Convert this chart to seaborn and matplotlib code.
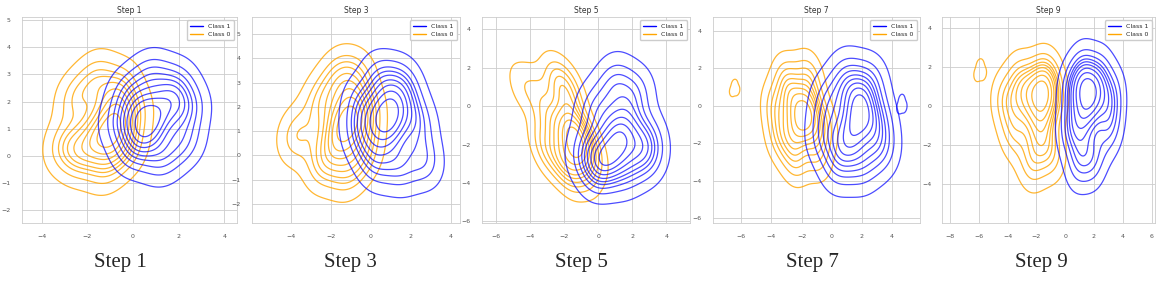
import numpy as np
import pandas as pd
import matplotlib
matplotlib.use("Agg")
import matplotlib.pyplot as plt
import seaborn as sns
from matplotlib.lines import Line2D

# ----------- DATA: weighted points (x, y, weight) per class and step -----------

step1_class0 = [(-1.1, 0.8, 1), (-0.9, 1.7, 1), (-1.8, 0.65, 1), (-0.1, 1.53, 1), (-0.6, 2.5, 1), (-1.6, 2.85, 1),
                (-2.5, 2.1, 1), (-3.0, 0.4, 1), (-2.3, -0.01, 1), (-1.2, -0.34, 1), (-0.3, 0.32, 1), (-1.0, 0.9, 1)]
step1_class1 = [(0.8, 1.3, 1), (1.56, 1.86, 1), (0.58, 0.87, 1), (2.42, 1.75, 1), (1.88, 2.63, 1), (0.8, 2.96, 1),
                (-0.17, 2.3, 1), (-0.5, 1.2, 1), (0.04, 0.21, 1), (1.24, -0.12, 1), (2.2, 0.54, 1), (0.56, 1.6, 1)]

step3_class0 = [(-1.4, 1.1, 1), (-0.9, 1.8, 1), (-1.8, 0.5, 1), (-0.3, 1.6, 1), (-0.8, 3.0, 1), (-1.6, 3.2, 1),
                (-2.5, 2.2, 1), (-3.7, 0.8, 1), (-2.4, -0.3, 1), (-1.2, -0.6, 1), (-0.4, 0.2, 1), (-1.3, 1.4, 1)]
step3_class1 = [(0.75, 1.67, 1), (1.31, 2.11, 1), (0.52, 0.97, 1), (2.32, 1.41, 1), (1.64, 2.9, 1), (0.52, 3.08, 1),
                (-0.37, 2.02, 1), (-0.48, 0.86, 1), (0.19, -0.27, 1), (1.42, -0.44, 1), (2.65, -0.18, 1), (0.97, 1.41, 1)]

step5_class0 = [(-1.5, -2.0, 1), (-1.1, -1.3, 1), (-1.8, -2.8, 1), (-0.5, -2.3, 1), (-1.7, 0.8, 1), (-2.4, 1.2, 1),
                (-2.8, -0.8, 1), (-3.1, -2.2, 1), (-2.0, -3.1, 1), (-1.0, -3.1, 1), (-1.9, -0.9, 1), (-1.3, -1.7, 1),
                (-4.5, 1.0, 0.5), (-3.6, 0.9, 0.5)]
step5_class1 = [(0.83, -2.2, 1), (1.61, -1.46, 1), (0.31, -2.9, 1), (2.65, -1.72, 1), (2.13, 0.6, 1), (0.96, 1.25, 1),
                (-0.21, -0.14, 1), (-0.73, -2.3, 1), (0.05, -3.25, 1), (1.61, -3.25, 1), (2.91, -2.6, 1), (1.09, -1.02, 1)]

step7_class0 = [(-1.96, -0.6, 1), (-1.36, 0.12, 1), (-2.44, -1.41, 1), (-0.64, -1.14, 1), (-1.6, 1.56, 1), (-3.0, 1.38, 1),
                (-3.7, -0.06, 1), (-3.4, -1.68, 1), (-2.44, -2.85, 1), (-1.0, -2.58, 1), (-2.56, 0.39, 1), (-1.72, -0.78, 1)]
step7_class1 = [(1.47, -1.13, 1), (2.12, -0.41, 1), (0.95, -1.85, 1), (3.03, -0.86, 1), (2.51, 1.21, 1), (0.95, 1.48, 1),
                (-0.22, 0.22, 1), (-0.48, -1.58, 1), (0.43, -3.11, 1), (1.99, -3.11, 1), (3.29, -2.3, 1), (1.6, 0.4, 1)]

step9_class0 = [(-1.9, 0.6, 1), (-1.6, -0.3, 1), (-1.8, -1.4, 1), (-0.9, 0.5, 1), (-1.3, 1.5, 1), (-3.1, 1.3, 1),
                (-4.1, 0.3, 1), (-3.5, -1.3, 1), (-2.3, -2.9, 1), (-1.0, -2.4, 1), (-2.7, 0.3, 1), (-1.7, 1.0, 1)]
step9_class1 = [(1.46, 0.9, 1), (2.14, 0.3, 1), (1.2, -0.9, 1), (3.24, 0.5, 1), (2.39, 1.5, 1), (1.2, 1.7, 1),
                (0.44, 0.9, 1), (0.35, -1.1, 1), (0.95, -2.8, 1), (1.97, -2.7, 1), (3.07, -1.1, 1), (1.54, 0.4, 1)]

# small detached outlier groups (one outer contour each)
step7_isle0 = [(-6.57, 0.8), (-6.32, 0.85), (-6.45, 1.12)]
step7_isle1 = [(4.52, -0.08), (4.77, -0.03), (4.64, 0.28)]
step9_isle0 = [(-6.06, 1.65), (-5.74, 1.7), (-5.9, 2.05)]

steps = ["Step 1", "Step 3", "Step 5", "Step 7", "Step 9"]
class0_sets = [step1_class0, step3_class0, step5_class0, step7_class0, step9_class0]
class1_sets = [step1_class1, step3_class1, step5_class1, step7_class1, step9_class1]
isle0_sets = [None, None, None, step7_isle0, step9_isle0]
isle1_sets = [None, None, None, step7_isle1, None]

# ----------- LAYOUT (pixel positions of each panel) -----------

W, H = 1163, 287
panel_px = [(21.7, 237), (251.7, 460), (481.7, 690), (712.7, 920), (942.3, 1155)]
top_px, bottom_px = 17.3, 222.7
xlims = [(-4.88, 4.56), (-5.97, 4.47), (-6.85, 5.38), (-7.9, 5.85), (-8.53, 6.24)]
ylims = [(-2.45, 5.1), (-2.77, 5.69), (-6.07, 4.63), (-6.23, 4.73), (-5.97, 4.56)]
xticks = [[-4, -2, 0, 2, 4], [-4, -2, 0, 2, 4], [-6, -4, -2, 0, 2, 4],
          [-6, -4, -2, 0, 2, 4], [-8, -6, -4, -2, 0, 2, 4, 6]]
yticks = [list(range(-2, 6)), list(range(-2, 6)), [-6, -4, -2, 0, 2, 4],
          [-6, -4, -2, 0, 2, 4], [-4, -2, 0, 2, 4]]
caption_x = [120, 350, 581, 812, 1041]

c0_color = "orange"
c1_color = "blue"

sns.set_theme(style="whitegrid")

fig = plt.figure(figsize=(W / 100, H / 100), dpi=100)

for i, step in enumerate(steps):
    l, r = panel_px[i]
    ax = fig.add_axes([l / W, 1 - bottom_px / H, (r - l) / W, (bottom_px - top_px) / H])

    d0 = pd.DataFrame(class0_sets[i], columns=["x", "y", "w"])
    d1 = pd.DataFrame(class1_sets[i], columns=["x", "y", "w"])
    sns.kdeplot(data=d0, x="x", y="y", weights="w", color=c0_color, levels=10, thresh=0.05,
                linewidths=0.9, alpha=0.8, ax=ax)
    sns.kdeplot(data=d1, x="x", y="y", weights="w", color=c1_color, levels=10, thresh=0.05,
                linewidths=0.9, alpha=0.7, ax=ax)

    for isle, col, a in [(isle0_sets[i], c0_color, 0.8), (isle1_sets[i], c1_color, 0.7)]:
        if isle is None:
            continue
        di = pd.DataFrame(isle, columns=["x", "y"])
        sns.kdeplot(data=di, x="x", y="y", color=col, levels=[0.05], linewidths=0.9, alpha=a, ax=ax)

    ax.set_xlim(*xlims[i])
    ax.set_ylim(*ylims[i])
    ax.set_xticks(xticks[i])
    ax.set_yticks(yticks[i])
    ax.tick_params(labelsize=4.5, pad=2, colors="#555555")
    ax.set_xlabel("")
    ax.set_ylabel("")
    ax.set_title(step, fontsize=5.5, pad=3, color="#333333")
    for s in ax.spines.values():
        s.set_linewidth(0.6)
    ax.grid(linewidth=0.6)

    handles = [Line2D([0], [0], color=c1_color, lw=1.0), Line2D([0], [0], color=c0_color, lw=1.0)]
    ax.legend(handles, ["Class 1", "Class 0"], loc="upper right", fontsize=4.5,
              handlelength=2.2, borderpad=0.5, labelspacing=0.4, framealpha=1)

    fig.text(caption_x[i] / W, 1 - 262 / H, step, ha="center", va="center",
             fontsize=15, family="Liberation Serif")

fig.savefig("out.png", dpi=100)
